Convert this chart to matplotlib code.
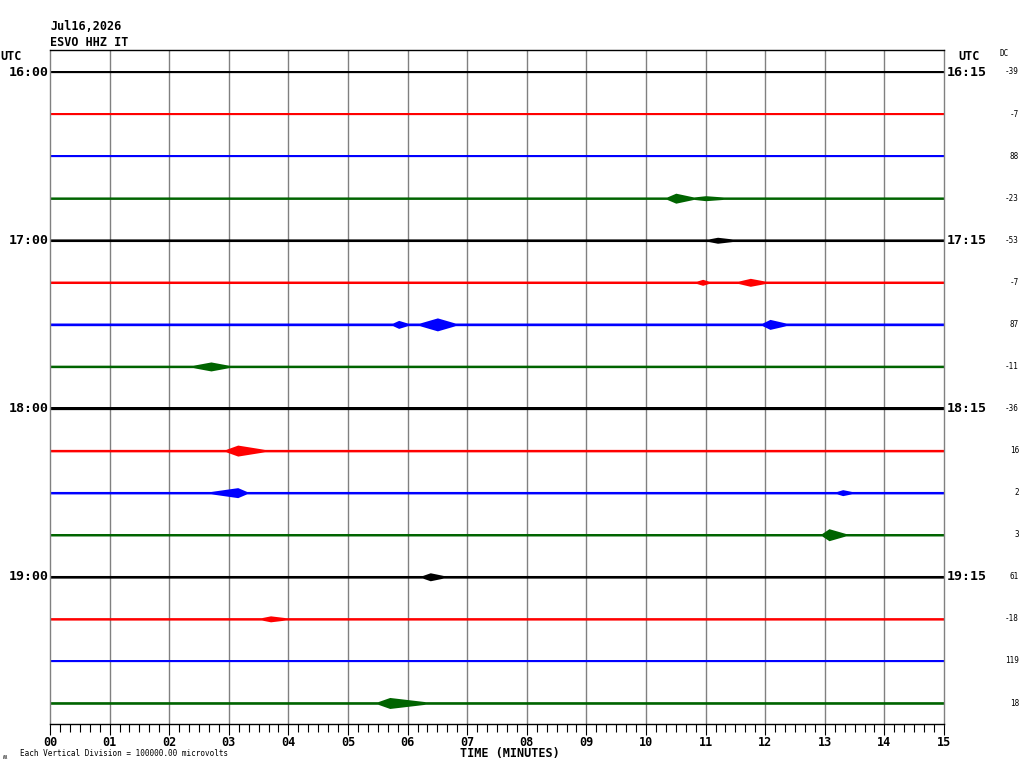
import numpy as np
import matplotlib.pyplot as plt
from matplotlib.ticker import MultipleLocator

# === Helicorder data ===
left_times = ["16:00", "17:00", "18:00", "19:00"]
right_times = ["16:15", "17:15", "18:15", "19:15"]
dc_values = [-39, -7, 88, -23, -53, -7, 87, -11, -36, 16, 2, 3, 61, -18, 119, 18]
trace_colors = ["black", "#ff0000", "#0000ff", "#006400"]
minute_labels = ["%02d" % m for m in range(16)]

# background noise half-width per trace, in pixels
noise_px = [1.4, 1.2, 1.2, 1.2, 1.3, 1.2, 1.3, 1.2, 1.3, 1.2, 1.2, 1.2, 1.3, 1.2, 1.2, 1.3]

# events: (row, start min, peak min, end min, peak half-amplitude in px)
events = [
    (3, 10.35, 10.50, 10.80, 5.0),
    (3, 10.80, 11.00, 11.30, 2.5),
    (4, 11.05, 11.20, 11.45, 3.0),
    (5, 10.85, 10.95, 11.05, 3.0),
    (5, 11.55, 11.75, 12.00, 4.0),
    (6, 5.75, 5.85, 6.00, 4.0),
    (6, 6.20, 6.50, 6.80, 6.5),
    (6, 11.95, 12.08, 12.35, 5.0),
    (7, 2.40, 2.70, 3.00, 4.5),
    (9, 2.95, 3.15, 3.60, 5.5),
    (10, 2.70, 3.15, 3.30, 5.0),
    (10, 13.20, 13.30, 13.45, 3.0),
    (11, 12.95, 13.07, 13.35, 6.0),
    (12, 6.25, 6.38, 6.60, 4.0),
    (13, 3.55, 3.70, 3.95, 3.0),
    (15, 5.50, 5.70, 6.30, 5.5),
]

ROW_PX = 42.07  # pixels per vertical division
mono = "DejaVu Sans Mono"

fig = plt.figure(figsize=(10.24, 7.68), dpi=100)
ax = fig.add_axes([50 / 1024, 1 - 724 / 768, 894 / 1024, 674 / 768])

# === Traces ===
for row in range(16):
    base = noise_px[row] / ROW_PX
    pts_t = [0.0]
    pts_a = [base]
    for ev in sorted([e for e in events if e[0] == row], key=lambda e: e[1]):
        pts_t += [ev[1], ev[2], ev[3]]
        pts_a += [base, ev[4] / ROW_PX, base]
    pts_t.append(15.0)
    pts_a.append(base)
    pts_t = np.array(pts_t)
    pts_a = np.array(pts_a)
    col = trace_colors[row % 4]
    ax.fill_between(pts_t, row - pts_a, row + pts_a, color=col, linewidth=0)
    ax.plot([0, 15], [row, row], color=col, linewidth=0.9)

# === Axes styling ===
ax.set_xlim(0, 15)
ax.set_ylim(15.5, -22 / ROW_PX)
ax.set_yticks([])
ax.xaxis.set_minor_locator(MultipleLocator(1 / 6))
ax.set_xticks(range(16))
ax.set_xticklabels(minute_labels, fontfamily=mono, fontweight="bold", fontsize=8.5)
ax.tick_params(axis="x", which="major", length=8, width=0.8, pad=0.5, color="black")
ax.tick_params(axis="x", which="minor", length=6, width=0.8, color="black")
for m in range(1, 15):
    ax.axvline(m, color="#808080", linewidth=1.0, zorder=0)
ax.spines["left"].set_color("#808080")
ax.spines["right"].set_color("#808080")
ax.spines["top"].set_color("black")
ax.spines["bottom"].set_color("black")
for s in ax.spines.values():
    s.set_linewidth(1.0)


def px(x, y):
    return x / 1024, 1 - y / 768


# === Labels ===
fig.text(*px(50, 26), "Jul16,2026", fontfamily=mono, fontweight="bold", fontsize=8.5, va="center")
fig.text(*px(50, 42), "ESVO HHZ IT", fontfamily=mono, fontweight="bold", fontsize=8.5, va="center")
fig.text(*px(0, 57), "UTC", fontfamily=mono, fontweight="bold", fontsize=8.5, va="center")
fig.text(*px(958, 57), "UTC", fontfamily=mono, fontweight="bold", fontsize=8.5, va="center")
fig.text(*px(1000, 54), "DC", fontfamily=mono, fontsize=5.5, va="center")

for i, lab in enumerate(left_times):
    fig.text(*px(49, 72 + 4 * i * ROW_PX), lab, fontfamily=mono, fontweight="bold",
             fontsize=9.5, ha="right", va="center")
for i, lab in enumerate(right_times):
    fig.text(*px(947, 72 + 4 * i * ROW_PX), lab, fontfamily=mono, fontweight="bold",
             fontsize=9.5, ha="left", va="center")
for i, v in enumerate(dc_values):
    fig.text(*px(1019, 72 + i * ROW_PX), str(v), fontfamily=mono, fontsize=5.5,
             ha="right", va="center")

fig.text(*px(510, 754), "TIME (MINUTES)", fontfamily=mono, fontweight="bold", fontsize=8.5,
         ha="center", va="center")
fig.text(*px(20, 754), "Each Vertical Division = 100000.00 microvolts", fontfamily=mono,
         fontsize=5.5, va="center")
fig.text(*px(3, 757), "\u028d", fontfamily=mono, fontsize=5, va="center")

fig.savefig("out.png", dpi=100)
